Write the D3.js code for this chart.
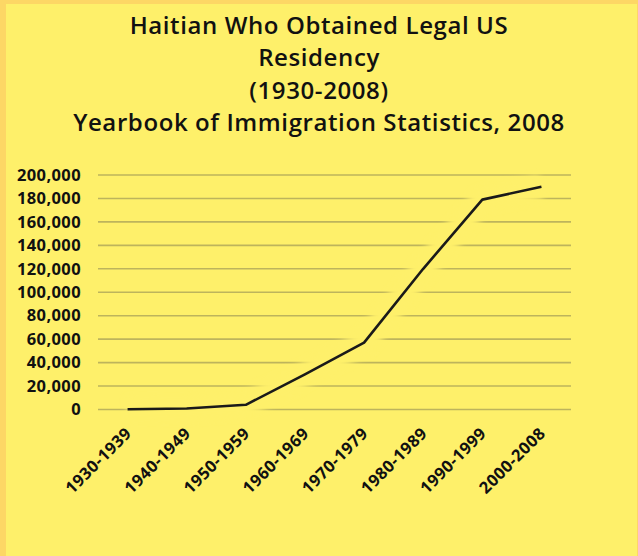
<!DOCTYPE html>
<html>
<head>
<meta charset="utf-8">
<script src="https://cdn.jsdelivr.net/npm/d3@7"></script>
<style>
  html, body { margin: 0; padding: 0; background: #FEF06A; }
  svg { display: block; }
</style>
</head>
<body>
<div id="chart"></div>
<script>
const titleLines = ["Haitian Who Obtained Legal US", "Residency", "(1930-2008)", "Yearbook of Immigration Statistics, 2008"];
const categories = ["1930-1939", "1940-1949", "1950-1959", "1960-1969", "1970-1979", "1980-1989", "1990-1999", "2000-2008"];
const values = [200, 800, 4000, 30000, 57000, 120000, 179000, 190000];
const yTicks = [0, 20000, 40000, 60000, 80000, 100000, 120000, 140000, 160000, 180000, 200000];

(function () {
const W = 638, H = 556;
const bg = "#FEF06A", border = "#FDD765";
const svg = d3.select("#chart").append("svg").attr("width", W).attr("height", H);

svg.append("rect").attr("width", W).attr("height", H).attr("fill", border);
svg.append("rect").attr("x", 6).attr("y", 4).attr("width", W - 7).attr("height", H - 4).attr("fill", bg);

const defs = svg.append("defs");
defs.append("filter").attr("id", "blur").attr("x", "-20%").attr("y", "-20%").attr("width", "140%").attr("height", "140%")
  .append("feGaussianBlur").attr("stdDeviation", 3);

const font = "'Open Sans', sans-serif";

// title
svg.append("g").selectAll("text").data(titleLines).join("text")
  .attr("x", 319).attr("y", (d, i) => 34 + i * 32.3)
  .attr("text-anchor", "middle")
  .attr("font-family", font).attr("font-weight", 600).attr("font-size", 24)
  .attr("letter-spacing", 0.6)
  .attr("fill", "#111").text(d => d);

const mLeft = 98, mRight = 571, mTop = 175, mBottom = 409.5;
const x = d3.scaleBand().domain(categories).range([mLeft, mRight]).padding(0);
const y = d3.scaleLinear().domain([0, 200000]).range([mBottom, mTop]);

// gridlines
svg.append("g").selectAll("line").data(yTicks).join("line")
  .attr("x1", mLeft).attr("x2", mRight)
  .attr("y1", d => y(d)).attr("y2", d => y(d))
  .attr("stroke", "#BDB45C").attr("stroke-width", 1.6);

// y axis labels via d3 axis
const yAxis = d3.axisLeft(y).tickValues(yTicks).tickFormat(d3.format(",")).tickSize(0).tickPadding(0);
const yg = svg.append("g").attr("transform", `translate(${mLeft - 17},0)`).call(yAxis);
yg.select(".domain").remove();
yg.selectAll("text").attr("font-family", font).attr("font-weight", 700).attr("font-size", 16.5)
  .attr("letter-spacing", 0.4).attr("fill", "#111");

// x axis labels
const xAxis = d3.axisBottom(x).tickSize(0).tickPadding(0);
const xg = svg.append("g").attr("transform", `translate(0,${mBottom})`).call(xAxis);
xg.select(".domain").remove();
xg.selectAll("text")
  .attr("font-family", font).attr("font-weight", 700).attr("font-size", 16.5).attr("fill", "#111")
  .attr("letter-spacing", 0.5)
  .attr("text-anchor", "end").attr("dy", null)
  .attr("transform", "translate(5,25) rotate(-45)");

// line
const line = d3.line().x((d, i) => x(categories[i]) + x.bandwidth() / 2).y(d => y(d));
svg.append("path").datum(values).attr("d", line)
  .attr("fill", "none").attr("stroke", bg).attr("stroke-width", 24).attr("stroke-linejoin", "round")
  .attr("filter", "url(#blur)");
svg.append("path").datum(values).attr("d", line)
  .attr("fill", "none").attr("stroke", "#1A1A1A").attr("stroke-width", 2.6).attr("stroke-linejoin", "round");
})();
</script>
</body>
</html>
